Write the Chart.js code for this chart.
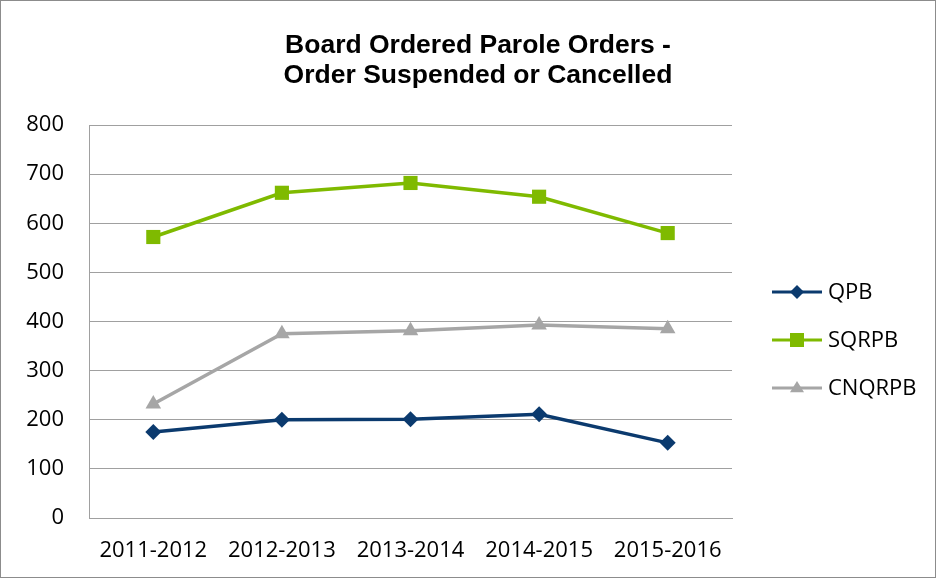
<!DOCTYPE html>
<html>
<head>
<meta charset="utf-8">
<script src="https://cdn.jsdelivr.net/npm/chart.js@4/dist/chart.umd.min.js"></script>
<style>
  html, body { margin: 0; padding: 0; background: #fff; }
  #wrap { width: 936px; height: 578px; position: relative; }
</style>
</head>
<body>
<div id="wrap"><canvas id="chart"></canvas></div>
<script>
// data
const categories = ["2011-2012", "2012-2013", "2013-2014", "2014-2015", "2015-2016"];
const qpb = [175, 200, 201, 211, 153];
const sqrpb = [572, 662, 682, 654, 580];
const cnqrpb = [232, 375, 381, 393, 385];
const titleLines = ["Board Ordered Parole Orders -", "Order Suspended or Cancelled"];

const tickFont = { family: "'Open Sans', 'DejaVu Sans', sans-serif", size: 22 };

// title, legend and outer frame drawn by hand
const decorations = {
  id: "decorations",
  afterDraw(chart) {
    const ctx = chart.ctx;
    ctx.save();
    ctx.strokeStyle = "#8c8c8c";
    ctx.lineWidth = 1;
    ctx.strokeRect(0.5, 0.5, 935, 577);

    ctx.fillStyle = "#000";
    ctx.font = "bold 26.5px 'Liberation Sans', Arial, sans-serif";
    ctx.textAlign = "center";
    ctx.textBaseline = "middle";
    titleLines.forEach((t, i) => ctx.fillText(t, 478, 46 + i * 30));

    chart.data.datasets.forEach((ds, i) => {
      const y = 292 + i * 48;
      ctx.strokeStyle = ds.borderColor;
      ctx.lineWidth = 3;
      ctx.beginPath();
      ctx.moveTo(772, y);
      ctx.lineTo(822, y);
      ctx.stroke();
      ctx.fillStyle = ds.pointBackgroundColor;
      const r = 7;
      ctx.beginPath();
      if (ds.pointStyle === "rectRot") {
        ctx.moveTo(797, y - r); ctx.lineTo(797 + r, y); ctx.lineTo(797, y + r); ctx.lineTo(797 - r, y);
      } else if (ds.pointStyle === "rect") {
        ctx.rect(797 - r, y - r, 2 * r, 2 * r);
      } else {
        ctx.moveTo(797, y - r); ctx.lineTo(797 + r, y + r * 0.6); ctx.lineTo(797 - r, y + r * 0.6);
      }
      ctx.closePath();
      ctx.fill();
      ctx.fillStyle = "#000";
      ctx.font = "22px 'Open Sans', 'DejaVu Sans', sans-serif";
      ctx.textAlign = "left";
      ctx.fillText(ds.label, 828, y + 1);
    });
    ctx.restore();
  }
};

new Chart(document.getElementById("chart"), {
  type: "line",
  data: {
    labels: categories,
    datasets: [
      {
        label: "QPB", data: qpb,
        borderColor: "#0b3a6e", backgroundColor: "#0b3a6e", pointBackgroundColor: "#0b3a6e",
        borderWidth: 3.5, pointStyle: "rectRot", pointRadius: 8, pointBorderWidth: 0, tension: 0
      },
      {
        label: "SQRPB", data: sqrpb,
        borderColor: "#7fba00", backgroundColor: "#7fba00", pointBackgroundColor: "#7fba00",
        borderWidth: 3.5, pointStyle: "rect", pointRadius: 10, pointBorderWidth: 0, tension: 0
      },
      {
        label: "CNQRPB", data: cnqrpb,
        borderColor: "#a6a6a6", backgroundColor: "#a6a6a6", pointBackgroundColor: "#a6a6a6",
        borderWidth: 3.5, pointStyle: "triangle", pointRadius: 9, pointBorderWidth: 0, tension: 0
      }
    ]
  },
  options: {
    responsive: true,
    maintainAspectRatio: false,
    animation: false,
    layout: { padding: { top: 125, right: 204, left: 0, bottom: 0 } },
    plugins: {
      legend: { display: false },
      title: { display: false },
      tooltip: { enabled: false }
    },
    scales: {
      x: {
        offset: true,
        grid: { display: false, drawTicks: false },
        border: { display: true, color: "#a0a0a0", width: 1 },
        ticks: { color: "#000", font: tickFont, padding: 20, maxRotation: 0, autoSkip: false },
        afterFit(scale) { scale.height = 60; }
      },
      y: {
        min: 0, max: 800,
        grid: { color: "#a0a0a0", lineWidth: 1, drawTicks: false },
        border: { display: true, color: "#a0a0a0", width: 1 },
        ticks: { stepSize: 100, color: "#000", font: tickFont, padding: 25 },
        afterFit(scale) { scale.width = 89; }
      }
    }
  },
  plugins: [decorations]
});
</script>
</body>
</html>
